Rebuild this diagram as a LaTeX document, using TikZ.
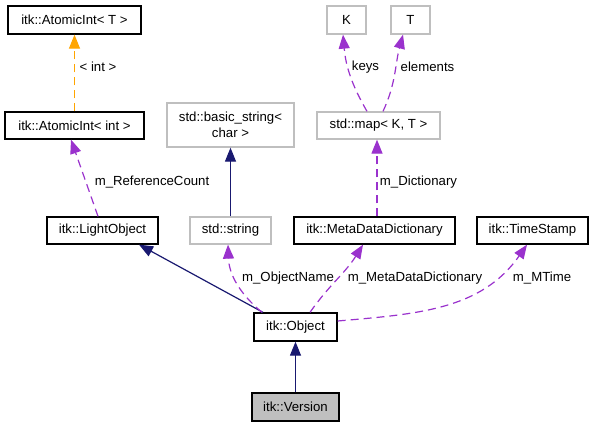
\documentclass[tikz,border=0pt]{standalone}
\usepackage{fontspec}
\setmainfont{Liberation Sans}
\usetikzlibrary{arrows.meta}
\definecolor{edgepurple}{HTML}{9A32CD}
\definecolor{edgeorange}{HTML}{FFA500}
\definecolor{edgenavy}{HTML}{191970}
\definecolor{boxgray}{HTML}{BFBFBF}
\begin{document}
\begin{tikzpicture}[x=1pt,y=-1pt,
  font=\fontsize{13.2}{15.5}\selectfont,
  cls/.style={draw=black,line width=1.3pt,inner sep=0pt,align=center},
  ext/.style={draw=boxgray,line width=1.3pt,inner sep=0pt,align=center},
  cur/.style={draw=black,fill=boxgray,line width=1.3pt,inner sep=0pt},
  tip/.style={-{Triangle[length=14pt,width=11pt]}},
  inh/.style={tip,draw=edgenavy,line width=1.2pt},
  use/.style={tip,draw=edgepurple,line width=1.2pt,dash pattern=on 8pt off 5pt},
  tpl/.style={tip,draw=edgeorange,line width=1.2pt,dash pattern=on 8pt off 5pt},
  lbl/.style={inner sep=0pt}]
\useasboundingbox (0,0) rectangle (593,427);
% nodes
\node[cls,minimum width=133pt,minimum height=28pt] (aT) at (74.5,20) {itk::AtomicInt< T >};
\node[cls,minimum width=139pt,minimum height=27pt] (aInt) at (74.5,125.5) {itk::AtomicInt< int >};
\node[ext,minimum width=127pt,minimum height=44pt] (bstr) at (230.5,125) {std::basic\_string<\\char >};
\node[cls,minimum width=111pt,minimum height=27pt] (light) at (102.5,230.5) {itk::LightObject};
\node[ext,minimum width=81pt,minimum height=27pt] (str) at (230.5,230.5) {std::string};
\node[ext,minimum width=39pt,minimum height=28pt] (K) at (346.5,20) {K};
\node[ext,minimum width=39pt,minimum height=28pt] (T) at (410.5,20) {T};
\node[ext,minimum width=123pt,minimum height=27pt] (map) at (378.5,125.5) {std::map< K, T >};
\node[cls,minimum width=161pt,minimum height=27pt] (mdd) at (374.5,230.5) {itk::MetaDataDictionary};
\node[cls,minimum width=111pt,minimum height=27pt] (ts) at (532.5,230.5) {itk::TimeStamp};
\node[cls,minimum width=83pt,minimum height=28pt] (obj) at (295.5,327) {itk::Object};
\node[cur,minimum width=87pt,minimum height=28pt] (ver) at (295.5,407) {itk::Version};
% edges
\draw[tpl] (aInt.north) -- (aT.south);
\draw[use] ([xshift=-4.5pt]light.north) -- ([xshift=-3.5pt]aInt.south);
\draw[inh] (str.north) -- (bstr.south);
\draw[use] ([xshift=-11.5pt]map.north) to[out=120,in=-85] ([xshift=-3.5pt]K.south);
\draw[use] ([xshift=4.5pt]map.north) to[out=65,in=-105] ([xshift=-7.5pt]T.south);
\draw[use] ([xshift=2.5pt]mdd.north) -- ([xshift=-1.5pt]map.south);
\draw[inh] ([xshift=-32.5pt]obj.north) -- ([xshift=36.5pt]light.south);
\draw[use] ([xshift=-33.5pt]obj.north) to[out=140,in=-88] ([xshift=-2.5pt]str.south);
\draw[use] ([xshift=14.5pt]obj.north) to[out=55,in=-122] ([xshift=-11.5pt]mdd.south);
\draw[use] ([yshift=6pt]obj.east) to[out=5,in=-125] ([xshift=-5.5pt]ts.south);
\draw[inh] (ver.north) -- (obj.south);
% labels
\node[lbl] (l1) at (98,67) {< int >};
\node[lbl] (l2) at (152,182) {m\_ReferenceCount};
\node[lbl] (l3) at (365.5,67) {keys};
\node[lbl] (l4) at (427.5,67) {elements};
\node[lbl] (l5) at (418.5,182) {m\_Dictionary};
\node[lbl] (l6) at (288,278) {m\_ObjectName};
\node[lbl] (l7) at (415,278) {m\_MetaDataDictionary};
\node[lbl] (l8) at (542,278) {m\_MTime};
\end{tikzpicture}
\end{document}
